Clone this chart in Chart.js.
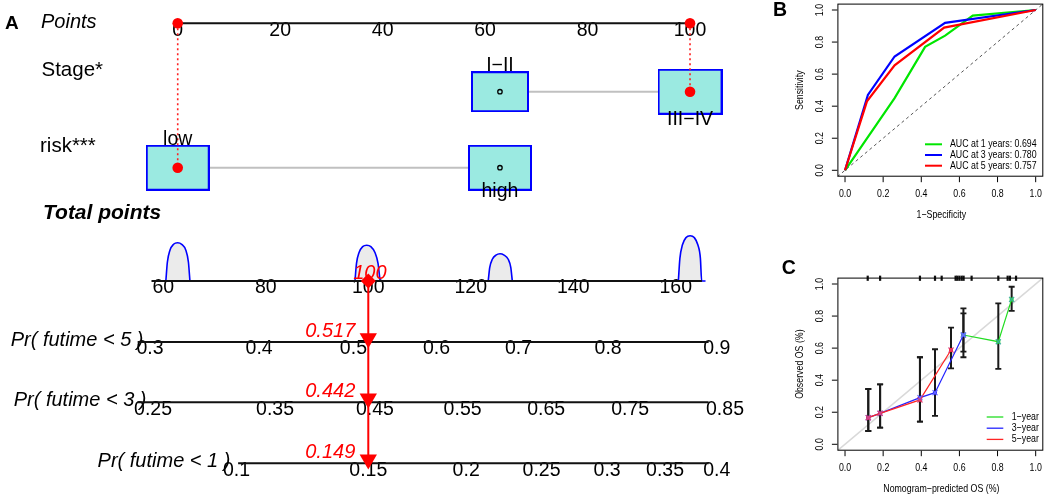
<!DOCTYPE html>
<html>
<head>
<meta charset="utf-8">
<script src="https://cdn.jsdelivr.net/npm/chart.js@4.4.1/dist/chart.umd.min.js"></script>
<style>
  html, body { margin: 0; padding: 0; background: #fff; overflow: hidden; }
  #fig { position: relative; width: 1045px; height: 496px; background: #fff; }
  #fig canvas { position: absolute; left: 0; top: 0; }
</style>
</head>
<body>
<div id="fig">
  <canvas id="nomo" width="1045" height="496"></canvas>
  <canvas id="roc" width="1045" height="496"></canvas>
  <canvas id="calib" width="1045" height="496"></canvas>
</div>
<script>
// ---------- Panel A: nomogram data ----------
const pointTicks = [0, 20, 40, 60, 80, 100];
const stageLevels = ['I\u2212II', 'III\u2212IV'];
const stagePoints = [62.9, 100];
const riskLevels = ['low', 'high'];
const riskPoints = [0, 62.9];
const totalTicks = [60, 80, 100, 120, 140, 160];
const totalRange = [57.7, 165.1];

const pr5Labels = ['0.3', '0.4', '0.5', '0.6', '0.7', '0.8', '0.9'];
const pr5At = [57.4, 78.7, 97.1, 113.3, 129.3, 146.8, 168.0];
const pr3Labels = ['0.25', '0.35', '0.45', '0.55', '0.65', '0.75', '0.85'];
const pr3At = [58.0, 81.8, 101.3, 118.4, 134.7, 151.1, 169.6];
const pr1Labels = ['0.1', '0.15', '0.2', '0.25', '0.3', '0.35', '0.4'];
const pr1At = [74.3, 100.0, 119.1, 133.8, 146.6, 157.9, 168.0];
const prRanges = [[55.0, 166.4], [55.0, 166.4], [74.6, 166.4]];
const prTitles = ['Pr( futime < 5 )', 'Pr( futime < 3 )', 'Pr( futime < 1 )'];

// the patient that is marked in red
const patientStage = 1;
const patientRisk = 0;
const patientTotal = 100;
const patientPr = ['0.517', '0.442', '0.149'];

// density of total points (relative height)
const hump1Tp = [60.5, 60.8, 61.3, 62.0, 62.8, 63.6, 64.4, 64.9, 65.2];
const hump1D = [0, 0.42, 0.68, 0.81, 0.845, 0.81, 0.68, 0.42, 0];
const hump2Tp = [97.4, 97.7, 98.2, 98.9, 99.7, 100.5, 101.3, 101.9, 102.3];
const hump2D = [0, 0.39, 0.63, 0.76, 0.79, 0.76, 0.63, 0.39, 0];
const hump3Tp = [123.4, 123.7, 124.2, 124.9, 125.7, 126.5, 127.3, 127.8, 128.1];
const hump3D = [0, 0.30, 0.48, 0.57, 0.60, 0.57, 0.48, 0.30, 0];
const hump4Tp = [160.5, 160.8, 161.3, 162.0, 162.8, 163.6, 164.3, 164.8, 165.05, 165.8];
const hump4D = [0, 0.5, 0.8, 0.96, 1.0, 0.96, 0.8, 0.5, 0, 0];

// ---------- Panel B: time-dependent ROC ----------
const unitTicks = [0, 0.2, 0.4, 0.6, 0.8, 1.0];
const rocFpr1 = [0, 0.26, 0.42, 0.525, 0.67, 1];
const rocTpr1 = [0, 0.45, 0.77, 0.84, 0.965, 1];
const rocFpr3 = [0, 0.12, 0.26, 0.525, 1];
const rocTpr3 = [0, 0.47, 0.71, 0.92, 1];
const rocFpr5 = [0, 0.115, 0.26, 0.52, 1];
const rocTpr5 = [0, 0.43, 0.655, 0.89, 1];
const rocLabels = ['AUC at 1 years: 0.694', 'AUC at 3 years: 0.780', 'AUC at 5 years: 0.757'];

// ---------- Panel C: calibration ----------
const cal1X = [0.621, 0.804, 0.874];
const cal1Y = [0.682, 0.640, 0.904];
const cal1Lo = [0.578, 0.470, 0.832];
const cal1Hi = [0.817, 0.879, 0.983];
const cal3X = [0.122, 0.184, 0.393, 0.472, 0.621];
const cal3Y = [0.166, 0.193, 0.291, 0.322, 0.682];
const cal3Lo = [0.083, 0.104, 0.141, 0.177, 0.543];
const cal3Hi = [0.345, 0.374, 0.543, 0.593, 0.848];
const cal5X = [0.122, 0.184, 0.393, 0.556];
const cal5Y = [0.166, 0.193, 0.277, 0.588];
const cal5Lo = [0.083, 0.104, 0.141, 0.474];
const cal5Hi = [0.345, 0.374, 0.543, 0.728];
const rugX = [0.119, 0.184, 0.393, 0.472, 0.507, 0.580, 0.589, 0.600, 0.612, 0.622, 0.664, 0.804, 0.853, 0.865, 0.897];
const calLabels = ['1\u2212year', '3\u2212year', '5\u2212year'];

// ---------- styles / layout ----------
const FONT = '"Liberation Sans", Arial, Helvetica, sans-serif';
const ROW = { points: 23.3, stage: 91.7, risk: 167.7, total: 281, pr5: 342, pr3: 402.3, pr1: 463.3 };
const prRows = [ROW.pr5, ROW.pr3, ROW.pr1];
const BOX_FILL = '#9BEAE1';
const boxSizeStage = [[58, 41], [65, 46]];
const boxSizeRisk = [[64, 46], [64, 46]];
const RED = '#FF0000';
const TICK_DY = 7;
const TRI_DY = -3.7;

function txt(ctx, s, x, y, font, opt) {
  opt = opt || {};
  ctx.save();
  ctx.translate(x, y);
  if (opt.rot) ctx.rotate(opt.rot);
  if (opt.sx) ctx.scale(opt.sx, 1);
  ctx.font = font;
  ctx.fillStyle = opt.color || '#000';
  ctx.textAlign = opt.align || 'center';
  ctx.textBaseline = 'middle';
  ctx.fillText(s, 0, 0);
  ctx.restore();
}

function makeBox(w, h) {
  const c = document.createElement('canvas');
  c.width = w; c.height = h;
  const g = c.getContext('2d');
  g.fillStyle = BOX_FILL;
  g.fillRect(0, 0, w, h);
  g.strokeStyle = '#0000FF';
  g.lineWidth = 2;
  g.strokeRect(1, 1, w - 2, h - 2);
  return c;
}

function seg(x0, y0, x1, y1) { return [{ x: x0, y: y0 }, { x: x1, y: y1 }]; }
function pairs(xs, ys) { return xs.map((v, i) => ({ x: v, y: ys[i] })); }

const common = {
  responsive: false,
  animation: false,
  events: [],
  plugins: { legend: { display: false }, tooltip: { enabled: false } }
};

// ---------- Panel A chart ----------
const nomoText = {
  id: 'nomoText',
  beforeDatasetsDraw(chart) {
    const { ctx, scales } = chart;
    const xp = scales.xp, xt = scales.xt, y = scales.y;
    const py = v => y.getPixelForValue(v);
    txt(ctx, 'A', 5, py(ROW.points), 'bold 19px ' + FONT, { align: 'left' });
    txt(ctx, 'Points', 41, py(ROW.points) - 0.8, 'italic 20px ' + FONT, { align: 'left' });
    txt(ctx, 'Stage*', 41.5, py(ROW.stage) - 21.7, '20.5px ' + FONT, { align: 'left' });
    txt(ctx, 'risk***', 40, py(ROW.risk) - 21, '20.5px ' + FONT, { align: 'left' });
    txt(ctx, 'Total points', 43, py(ROW.total) - 67.7, 'bold italic 21px ' + FONT, { align: 'left' });
    const prStart = [10.7, 13.7, 97.6];
    prTitles.forEach((t, i) => txt(ctx, t, prStart[i], py(prRows[i]) - 1.8, 'italic 20px ' + FONT, { align: 'left' }));

    const tf = '19.5px ' + FONT;
    pointTicks.forEach(v => txt(ctx, String(v), xp.getPixelForValue(v), py(ROW.points) + TICK_DY, tf));
    totalTicks.forEach(v => txt(ctx, String(v), xt.getPixelForValue(v), py(ROW.total) + TICK_DY, tf));
    [[pr5Labels, pr5At], [pr3Labels, pr3At], [pr1Labels, pr1At]].forEach(([labs, at], i) => {
      labs.forEach((s, j) => txt(ctx, s, xt.getPixelForValue(at[j]), py(prRows[i]) + TICK_DY, tf));
    });
  },
  afterDatasetsDraw(chart) {
    const { ctx, scales } = chart;
    const xp = scales.xp, xt = scales.xt, y = scales.y;
    const py = v => y.getPixelForValue(v);
    const lf = '19.5px ' + FONT;
    const stageDy = [-25.7, 28.3], riskDy = [-27.7, 24];
    stageLevels.forEach((s, i) => txt(ctx, s, xp.getPixelForValue(stagePoints[i]), py(ROW.stage) + stageDy[i], lf));
    riskLevels.forEach((s, i) => txt(ctx, s, xp.getPixelForValue(riskPoints[i]), py(ROW.risk) + riskDy[i], lf));
    const px = xt.getPixelForValue(patientTotal);
    txt(ctx, String(patientTotal), px + 1.6, py(ROW.total) - 7.7, 'italic 20px ' + FONT, { color: RED });
    patientPr.forEach((s, i) => txt(ctx, s, px - 13, py(prRows[i]) - 11, 'italic 20px ' + FONT, { color: RED, align: 'right' }));
  }
};

const humpSet = (tp, d) => ({
  type: 'line', xAxisID: 'xt', yAxisID: 'yd', order: 40,
  data: pairs(tp, d), borderColor: '#0000FF', borderWidth: 1.6,
  backgroundColor: '#EBEBEB', fill: { value: 0 }, pointRadius: 0,
  cubicInterpolationMode: 'monotone'
});
const axisLine = (axis, x0, x1, row) => ({
  type: 'line', xAxisID: axis, yAxisID: 'y', order: 30,
  data: seg(x0, row, x1, row), borderColor: '#111', borderWidth: 2, pointRadius: 0
});

const boxData = [], boxStyles = [], openCentres = [];
stagePoints.forEach((p, i) => {
  boxData.push({ x: p, y: ROW.stage });
  boxStyles.push(makeBox(boxSizeStage[i][0], boxSizeStage[i][1]));
  if (i !== patientStage) openCentres.push({ x: p, y: ROW.stage });
});
riskPoints.forEach((p, i) => {
  boxData.push({ x: p, y: ROW.risk });
  boxStyles.push(makeBox(boxSizeRisk[i][0], boxSizeRisk[i][1]));
  if (i !== patientRisk) openCentres.push({ x: p, y: ROW.risk });
});
const selStage = stagePoints[patientStage];
const selRisk = riskPoints[patientRisk];

new Chart(document.getElementById('nomo'), {
  type: 'scatter',
  data: {
    datasets: [
      humpSet(hump1Tp, hump1D), humpSet(hump2Tp, hump2D),
      humpSet(hump3Tp, hump3D), humpSet(hump4Tp, hump4D),
      axisLine('xp', pointTicks[0], pointTicks[pointTicks.length - 1], ROW.points),
      axisLine('xt', totalRange[0], totalRange[1], ROW.total),
      ...prRanges.map((r, i) => axisLine('xt', r[0], r[1], prRows[i])),
      { type: 'line', xAxisID: 'xp', yAxisID: 'y', order: 28, data: seg(stagePoints[0], ROW.stage, stagePoints[1], ROW.stage),
        borderColor: '#C0C0C0', borderWidth: 2, pointRadius: 0 },
      { type: 'line', xAxisID: 'xp', yAxisID: 'y', order: 28, data: seg(riskPoints[0], ROW.risk, riskPoints[1], ROW.risk),
        borderColor: '#C0C0C0', borderWidth: 2, pointRadius: 0 },
      { xAxisID: 'xp', yAxisID: 'y', order: 26, data: boxData, pointStyle: boxStyles, pointRadius: 1 },
      { xAxisID: 'xp', yAxisID: 'y', order: 25, data: openCentres, pointStyle: 'circle', pointRadius: 2.2,
        pointBorderColor: '#000', pointBorderWidth: 1.3, pointBackgroundColor: 'rgba(0,0,0,0)' },
      { type: 'line', xAxisID: 'xp', yAxisID: 'y', order: 20, data: seg(selRisk, ROW.points, selRisk, ROW.risk),
        borderColor: '#FF2020', borderWidth: 1.6, borderDash: [2, 3], pointRadius: 0 },
      { type: 'line', xAxisID: 'xp', yAxisID: 'y', order: 20, data: seg(selStage, ROW.points, selStage, ROW.stage),
        borderColor: '#FF2020', borderWidth: 1.6, borderDash: [2, 3], pointRadius: 0 },
      { type: 'line', xAxisID: 'xt', yAxisID: 'y', order: 18, data: seg(patientTotal, ROW.total, patientTotal, ROW.pr1),
        borderColor: RED, borderWidth: 2, pointRadius: 0 },
      { xAxisID: 'xp', yAxisID: 'y', order: 10,
        data: [{ x: selRisk, y: ROW.points }, { x: selStage, y: ROW.points }, { x: selStage, y: ROW.stage }, { x: selRisk, y: ROW.risk }],
        pointStyle: 'circle', pointRadius: 5.3, pointBackgroundColor: RED, pointBorderWidth: 0 },
      { xAxisID: 'xt', yAxisID: 'y', order: 10, data: [{ x: patientTotal, y: ROW.total }],
        pointStyle: 'rectRot', pointRadius: 7.5, pointBackgroundColor: RED, pointBorderWidth: 0 },
      { xAxisID: 'xt', yAxisID: 'y', order: 10, data: prRows.map(r => ({ x: patientTotal, y: r + TRI_DY })),
        pointStyle: 'triangle', pointRotation: 180, pointRadius: 10, pointBackgroundColor: RED, pointBorderWidth: 0 }
    ]
  },
  options: Object.assign({}, common, {
    layout: { autoPadding: false, padding: { left: 0, right: 285, top: 0, bottom: 0 } },
    scales: {
      xp: { type: 'linear', axis: 'x', display: false, min: -34.69, max: 113.66 },
      xt: { type: 'linear', axis: 'x', display: false, min: 28.14, max: 176.43 },
      y: { type: 'linear', axis: 'y', display: false, min: 0, max: 496, reverse: true },
      yd: { type: 'linear', axis: 'y', display: false, min: -4.746, max: 6.203 }
    }
  }),
  plugins: [nomoText]
});

// ---------- R-style axes for panels B and C ----------
const SMALL = '11px ' + FONT;
const SX = 0.8;
const rAxes = {
  id: 'rAxes',
  afterDatasetsDraw(chart, args, o) {
    const { ctx, chartArea: ca, scales: { x, y } } = chart;
    ctx.save();
    ctx.strokeStyle = '#000';
    ctx.lineWidth = 1;
    ctx.strokeRect(ca.left + 0.5, ca.top + 0.5, ca.width - 1, ca.height - 1);
    ctx.beginPath();
    o.ticks.forEach(v => {
      const px = x.getPixelForValue(v);
      ctx.moveTo(px, ca.bottom); ctx.lineTo(px, ca.bottom + 5.5);
      const py = y.getPixelForValue(v);
      ctx.moveTo(ca.left, py); ctx.lineTo(ca.left - 5.5, py);
    });
    ctx.stroke();
    ctx.restore();
    o.ticks.forEach(v => {
      const s = v.toFixed(1);
      txt(ctx, s, x.getPixelForValue(v), ca.bottom + 16.8, SMALL, { sx: SX });
      txt(ctx, s, ca.left - 17.5, y.getPixelForValue(v), SMALL, { sx: SX, rot: -Math.PI / 2 });
    });
    txt(ctx, o.xTitle, (ca.left + ca.right) / 2 + 1, ca.bottom + 38.5, SMALL, { sx: SX });
    txt(ctx, o.yTitle, ca.left - 37.5, (ca.top + ca.bottom) / 2, SMALL, { sx: SX, rot: -Math.PI / 2 });
    txt(ctx, o.letter, o.letterX, o.letterY, 'bold 19.5px ' + FONT, { align: 'left' });
    const L = o.legend;
    L.labels.forEach((s, i) => {
      const ly = L.y0 + i * L.dy;
      ctx.save();
      ctx.strokeStyle = L.colors[i];
      ctx.lineWidth = L.width;
      ctx.beginPath(); ctx.moveTo(L.x0, ly); ctx.lineTo(L.x1, ly); ctx.stroke();
      ctx.restore();
      txt(ctx, s, L.tx, ly, SMALL, { sx: SX, align: 'left' });
    });
  }
};

const unitScales = {
  x: { type: 'linear', display: false, min: -0.04, max: 1.04 },
  y: { type: 'linear', display: false, min: -0.04, max: 1.04 }
};

// ---------- Panel B chart ----------
const rocColors = ['#00E600', '#0000FF', '#FF0000'];
new Chart(document.getElementById('roc'), {
  type: 'scatter',
  data: {
    datasets: [
      { type: 'line', order: 10, data: seg(-0.04, -0.04, 1.04, 1.04), borderColor: '#555', borderWidth: 1,
        borderDash: [3, 3], pointRadius: 0 },
      { type: 'line', order: 3, data: pairs(rocFpr1, rocTpr1), borderColor: rocColors[0], borderWidth: 2.2, pointRadius: 0 },
      { type: 'line', order: 2, data: pairs(rocFpr3, rocTpr3), borderColor: rocColors[1], borderWidth: 2.2, pointRadius: 0 },
      { type: 'line', order: 1, data: pairs(rocFpr5, rocTpr5), borderColor: rocColors[2], borderWidth: 2.2, pointRadius: 0 }
    ]
  },
  options: Object.assign({}, common, {
    layout: { autoPadding: false, padding: { left: 837.4, right: 1.7, top: 3.6, bottom: 319.3 } },
    scales: unitScales,
    plugins: {
      legend: { display: false }, tooltip: { enabled: false },
      rAxes: {
        ticks: unitTicks, xTitle: '1\u2212Specificity', yTitle: 'Sensitivity',
        letter: 'B', letterX: 773, letterY: 10.5,
        legend: { labels: rocLabels, colors: rocColors, width: 2, x0: 925, x1: 942, tx: 950, y0: 144.3, dy: 10.7 }
      }
    }
  }),
  plugins: [rAxes]
});

// ---------- Panel C chart ----------
const calColors = ['#22DD22', '#2424FF', '#FF2424'];
const calMarks = ['rgba(60,170,160,0.9)', 'rgba(110,110,255,0.9)', 'rgba(220,60,120,0.9)'];
function stems(xs, lo, hi) {
  const out = [];
  xs.forEach((v, i) => { out.push({ x: v, y: lo[i] }, { x: v, y: hi[i] }, { x: v, y: null }); });
  return out;
}
function caps(xs, lo, hi) {
  return xs.map((v, i) => ({ x: v, y: lo[i] })).concat(xs.map((v, i) => ({ x: v, y: hi[i] })));
}
const calSeries = [[cal1X, cal1Y, cal1Lo, cal1Hi], [cal3X, cal3Y, cal3Lo, cal3Hi], [cal5X, cal5Y, cal5Lo, cal5Hi]];
const calDatasets = [
  { type: 'line', order: 50, data: seg(-0.04, -0.04, 1.04, 1.04), borderColor: '#D9D9D9', borderWidth: 1.5, pointRadius: 0 },
  { order: 49, data: rugX.map(v => ({ x: v, y: 1.036 })), pointStyle: 'line', pointRotation: 90, pointRadius: 2.6,
    pointBorderColor: '#111', pointBorderWidth: 2.2, clip: false }
];
calSeries.forEach(([xs, ys, lo, hi], k) => {
  calDatasets.push(
    { type: 'line', order: 40 - k, data: stems(xs, lo, hi), borderColor: '#1A1A1A', borderWidth: 2, pointRadius: 0, spanGaps: false },
    { order: 35 - k, data: caps(xs, lo, hi), pointStyle: 'line', pointRadius: 3, pointBorderColor: '#1A1A1A', pointBorderWidth: 1.8 },
    { type: 'line', order: 20 - k, data: pairs(xs, ys), borderColor: calColors[k], borderWidth: 1.2,
      pointStyle: 'rect', pointRadius: 2.8, pointBackgroundColor: calColors[k], pointBorderWidth: 0 },
    { order: 10 - k, data: pairs(xs, ys), pointStyle: 'crossRot', pointRadius: 3.6,
      pointBorderColor: calMarks[k], pointBorderWidth: 1.3 }
  );
});

new Chart(document.getElementById('calib'), {
  type: 'scatter',
  data: { datasets: calDatasets },
  options: Object.assign({}, common, {
    layout: { autoPadding: false, padding: { left: 837.4, right: 1.7, top: 277.6, bottom: 45.3 } },
    scales: unitScales,
    plugins: {
      legend: { display: false }, tooltip: { enabled: false },
      rAxes: {
        ticks: unitTicks, xTitle: 'Nomogram\u2212predicted OS (%)', yTitle: 'Observed OS (%)',
        letter: 'C', letterX: 781.7, letterY: 268.7,
        legend: { labels: calLabels, colors: calColors, width: 1.3, x0: 986.7, x1: 1003.3, tx: 1011.7, y0: 417, dy: 11.2 }
      }
    }
  }),
  plugins: [rAxes]
});
</script>
</body>
</html>
